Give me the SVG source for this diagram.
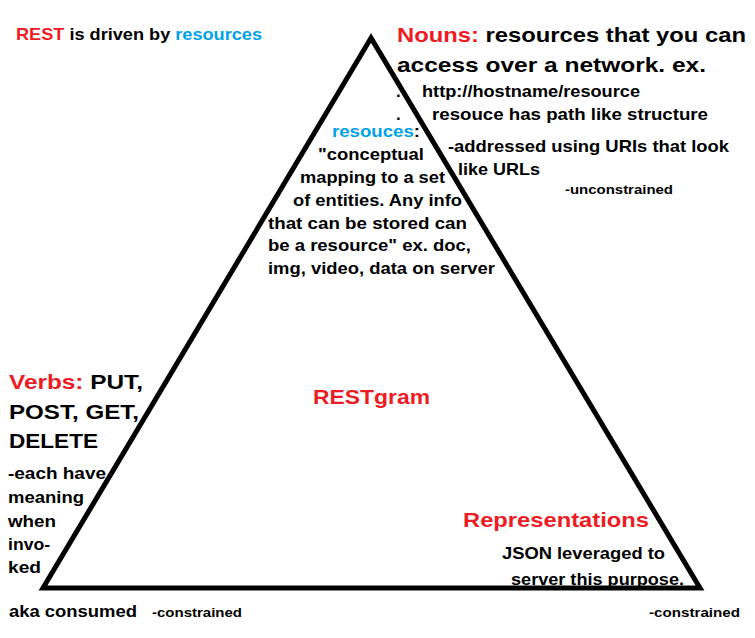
<svg xmlns="http://www.w3.org/2000/svg" width="755" height="638" viewBox="0 0 755 638">
  <style>
    text { font-family: "Liberation Sans", Arial, sans-serif; font-weight: bold; fill: #000; }
    .red { fill: #ed1c24; }
    .blue { fill: #00a2e8; }
    .big { font-size: 21px; }
    .mid { font-size: 17px; }
    .sm { font-size: 16px; }
    .tiny { font-size: 13px; }
    .edge { fill: none; stroke: #000; stroke-width: 5; stroke-linejoin: miter; }
  </style>
  <rect width="755" height="638" fill="#fff"/>

  <g id="connectors">
    <polygon class="edge" points="371,38 43,588 700,588"/>
  </g>

  <g id="title">
    <text class="mid" x="16" y="40" textLength="246" lengthAdjust="spacingAndGlyphs"><tspan class="red">REST</tspan> is driven by <tspan class="blue">resources</tspan></text>
  </g>

  <g id="nouns">
    <text class="big" x="397" y="42" textLength="349" lengthAdjust="spacingAndGlyphs"><tspan class="red">Nouns:</tspan> resources that you can</text>
    <text class="big" x="397" y="72" textLength="309" lengthAdjust="spacingAndGlyphs">access over a network. ex.</text>
    <text class="mid" x="396" y="97">.</text>
    <text class="mid" x="422" y="97" textLength="218" lengthAdjust="spacingAndGlyphs">http://hostname/resource</text>
    <text class="mid" x="396" y="120">.</text>
    <text class="mid" x="432" y="120" textLength="276" lengthAdjust="spacingAndGlyphs">resouce has path like structure</text>
    <text class="mid" x="448" y="152" textLength="281" lengthAdjust="spacingAndGlyphs">-addressed using URIs that look</text>
    <text class="mid" x="458" y="175" textLength="82" lengthAdjust="spacingAndGlyphs">like URLs</text>
    <text class="tiny" x="565" y="194" textLength="108" lengthAdjust="spacingAndGlyphs">-unconstrained</text>
  </g>

  <g id="resources">
    <text class="mid" x="332" y="137" textLength="88" lengthAdjust="spacingAndGlyphs"><tspan class="blue">resouces</tspan>:</text>
    <text class="mid" x="318" y="160" textLength="106" lengthAdjust="spacingAndGlyphs">"conceptual</text>
    <text class="mid" x="300" y="183" textLength="145" lengthAdjust="spacingAndGlyphs">mapping to a set</text>
    <text class="mid" x="293" y="206" textLength="169" lengthAdjust="spacingAndGlyphs">of entities. Any info</text>
    <text class="mid" x="268" y="229" textLength="199" lengthAdjust="spacingAndGlyphs">that can be stored can</text>
    <text class="mid" x="268" y="251" textLength="203" lengthAdjust="spacingAndGlyphs">be a resource" ex. doc,</text>
    <text class="mid" x="268" y="274" textLength="227" lengthAdjust="spacingAndGlyphs">img, video, data on server</text>
  </g>

  <g id="restgram">
    <text class="big red" x="313" y="404" textLength="117" lengthAdjust="spacingAndGlyphs">RESTgram</text>
  </g>

  <g id="verbs">
    <text class="big" x="9" y="389" textLength="134" lengthAdjust="spacingAndGlyphs"><tspan class="red">Verbs:</tspan> PUT,</text>
    <text class="big" x="9" y="419" textLength="130" lengthAdjust="spacingAndGlyphs">POST, GET,</text>
    <text class="big" x="9" y="448" textLength="89" lengthAdjust="spacingAndGlyphs">DELETE</text>
    <text class="sm" x="8" y="479" textLength="98" lengthAdjust="spacingAndGlyphs">-each have</text>
    <text class="sm" x="8" y="503" textLength="76" lengthAdjust="spacingAndGlyphs">meaning</text>
    <text class="sm" x="8" y="527" textLength="48" lengthAdjust="spacingAndGlyphs">when</text>
    <text class="sm" x="8" y="550" textLength="42" lengthAdjust="spacingAndGlyphs">invo-</text>
    <text class="sm" x="8" y="573" textLength="33" lengthAdjust="spacingAndGlyphs">ked</text>
    <text class="mid" x="9" y="617" textLength="128" lengthAdjust="spacingAndGlyphs">aka consumed</text>
    <text class="tiny" x="152" y="617" textLength="90" lengthAdjust="spacingAndGlyphs">-constrained</text>
  </g>

  <g id="representations">
    <text class="big red" x="463" y="527" textLength="186" lengthAdjust="spacingAndGlyphs">Representations</text>
    <text class="sm" x="502" y="559" textLength="163" lengthAdjust="spacingAndGlyphs">JSON leveraged to</text>
    <text class="sm" x="511" y="585" textLength="173" lengthAdjust="spacingAndGlyphs">server this purpose.</text>
    <text class="tiny" x="649" y="617" textLength="91" lengthAdjust="spacingAndGlyphs">-constrained</text>
  </g>
</svg>
